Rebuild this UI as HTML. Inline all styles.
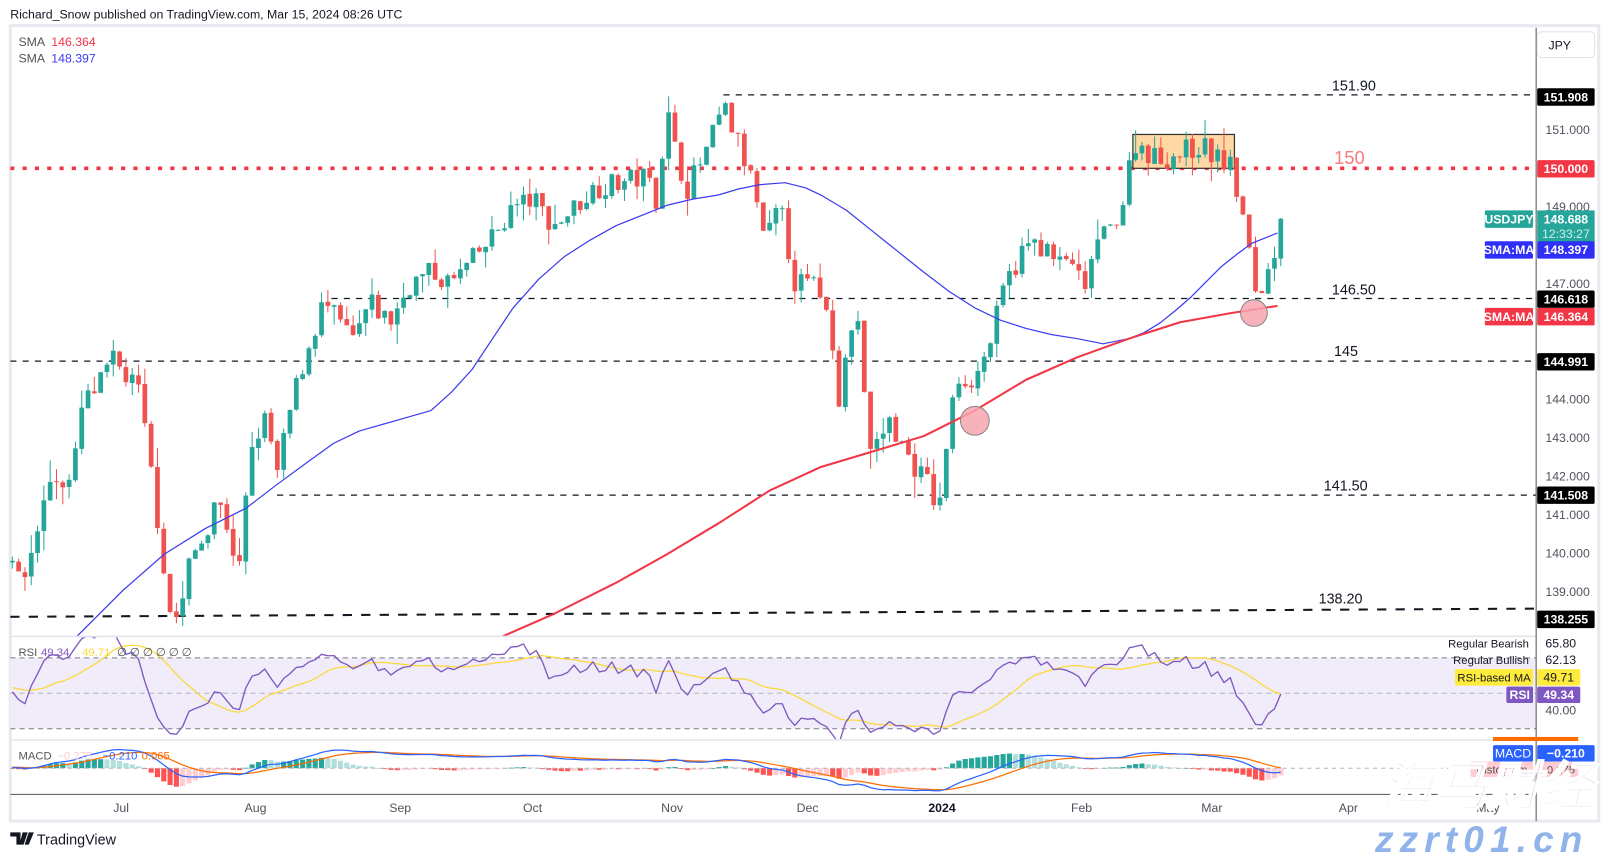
<!DOCTYPE html>
<html><head><meta charset="utf-8">
<style>
html,body{margin:0;padding:0;background:#fff;overflow:hidden}
svg{display:block}
text{font-family:"Liberation Sans",sans-serif}
</style></head>
<body>
<svg id="s" width="1609" height="857" viewBox="0 0 1568 835" preserveAspectRatio="none" xmlns="http://www.w3.org/2000/svg">
<rect x="0" y="0" width="1568" height="835" fill="#fff"/>
<text x="10" y="18" font-size="12" fill="#131722">Richard_Snow published on TradingView.com, Mar 15, 2024 08:26 UTC</text>
<rect x="10" y="25" width="1548" height="775" fill="#fff" stroke="#e8eaf0" stroke-width="3"/>
<defs><clipPath id="cm"><rect x="10" y="27" width="1487" height="593"/></clipPath>
<clipPath id="cr"><rect x="10" y="621" width="1487" height="99"/></clipPath>
<clipPath id="cd"><rect x="10" y="722" width="1487" height="52"/></clipPath></defs>
<g id="main" clip-path="url(#cm)"></g>
<g id="rsi" clip-path="url(#cr)"></g>
<g id="macd" clip-path="url(#cd)"></g>
<g id="over"></g>
</svg>
<script>
var NS="http://www.w3.org/2000/svg";
function el(p,t,a,txt){var e=document.createElementNS(NS,t);for(var k in a)e.setAttribute(k,a[k]);if(txt!==undefined)e.textContent=txt;p.appendChild(e);return e;}
var M=document.getElementById('main'),R=document.getElementById('rsi'),D=document.getElementById('macd'),O=document.getElementById('over');
function Y(p){return 164+(150-p)*37.5;}
var kp=[[-240,139.5],[12,140.0],[20,139.0],[50,142],[70,141.8],[80,143.8],[100,144.5],[110,145],[135,144.2],[148,142],[158,140],[165,138.5],[175,138.3],[185,139.8],[200,140.5],[210,141.5],[225,140.5],[232,139.2],[240,141.5],[248,143],[260,143.5],[270,142],[285,144],[300,145.3],[315,146.5],[330,146],[345,145.5],[360,146.5],[380,146],[400,147],[420,147.3],[440,147],[460,147.6],[480,148.2],[500,149],[520,149.2],[540,148.5],[560,149],[580,149.5],[600,149.6],[630,149.8],[640,149.2],[650,151.5],[660,150.2],[670,149.5],[690,150.5],[705,151.6],[720,150.6],[735,149.5],[745,148],[760,149],[775,147],[790,147],[800,146.8],[812,145.5],[818,144],[825,145.2],[835,146.5],[842,144],[850,142.5],[865,143.5],[875,143],[890,142.3],[905,141.8],[915,141],[925,143.5],[935,144.6],[950,144.5],[965,145.5],[980,147],[1000,148],[1015,148],[1030,147.5],[1045,147.6],[1058,146.6],[1065,148],[1080,148.3],[1095,149.2],[1105,150.7],[1130,150.2],[1150,150.4],[1170,150.6],[1190,150.2],[1200,150],[1208,149.1],[1215,148.2],[1222,146.9],[1228,146.8],[1240,147.6],[1248,148.7]];
function path(x){for(var i=1;i<kp.length;i++){if(x<=kp[i][0]){var a=kp[i-1],b=kp[i];return a[1]+(b[1]-a[1])*(x-a[0])/(b[0]-a[0]);}}return kp[kp.length-1][1];}
var seed=7;function rnd(){seed=(seed*16807)%2147483647;return seed/2147483647;}
var sp=6.15,xs=[],cl=[],op=[],hi=[],lo=[];
var prev=139.5;
for(var i=-40;i<=201;i++){var x=12+i*sp;var c=path(x)+(rnd()-0.5)*0.6;if(i==201)c=148.688;var o=prev+(rnd()-0.5)*0.05;
var h=Math.max(o,c)+rnd()*rnd()*0.6,l=Math.min(o,c)-rnd()*rnd()*0.6;xs.push(x);cl.push(c);op.push(o);hi.push(h);lo.push(l);prev=c;}
function hline(x1,x2,p,extra){var a={x1:x1,x2:x2,y1:Y(p),y2:Y(p),stroke:'#131722','stroke-width':1.2,'stroke-dasharray':'6 6'};for(var k in extra)a[k]=extra[k];el(M,'line',a);}
hline(705,1497,151.908);hline(323,1497,146.618);hline(10,1497,144.991);hline(270,1497,141.508);
el(M,'line',{x1:10,y1:601,x2:1497,y2:593,stroke:'#131722','stroke-width':2,'stroke-dasharray':'9 9'});
el(M,'line',{x1:10,y1:164,x2:1497,y2:164,stroke:'#f23645','stroke-width':3.5,'stroke-dasharray':'4 8'});
el(M,'rect',{x:1104,y:131,width:99,height:33,fill:'#ffd8a3',stroke:'#333','stroke-width':1.2});
var b50=[[75,620],[120,575],[160,540],[200,515],[240,495],[270,472],[300,450],[325,432],[350,420],[385,410],[420,400],[440,382],[460,360],[480,330],[500,300],[525,272],[550,250],[575,234],[600,220],[625,210],[650,200],[675,194],[700,190],[720,184],[740,180],[765,178],[785,183],[800,190],[825,205],[850,225],[875,245],[900,265],[925,284],[950,300],[975,312],[1000,320],[1025,326],[1050,330],[1075,335],[1100,330],[1115,324],[1130,315],[1145,303],[1160,290],[1175,275],[1190,260],[1205,248],[1220,237],[1245,227]];
var r200=[[490,620],[540,598],[600,568],[650,540],[700,510],[750,478],[800,455],[850,440],[900,425],[950,400],[1000,370],[1050,348],[1100,330],[1150,314],[1200,305],[1245,298]];
function pl(g,pts,col,w){el(g,'polyline',{points:pts.map(function(p){return p.join(',')}).join(' '),fill:'none',stroke:col,'stroke-width':w,'stroke-linejoin':'round'});}
for(var i=40;i<xs.length;i++){var x=xs[i],o=op[i],c=cl[i];var col=c>=o?'#26a69a':'#ef5350';
el(M,'line',{x1:x,x2:x,y1:Y(hi[i]),y2:Y(lo[i]),stroke:col,'stroke-width':1});
var t=Y(Math.max(o,c)),bb=Y(Math.min(o,c));el(M,'rect',{x:x-2.3,y:t,width:4.6,height:Math.max(1,bb-t),fill:col});}
pl(M,b50,'#3b3bf0',1.2);pl(M,r200,'#f23645',2);
el(M,'circle',{cx:950,cy:410,r:14,fill:'#f7a4ae','fill-opacity':0.85,stroke:'#888','stroke-width':1});
el(M,'circle',{cx:1222,cy:305,r:13,fill:'#f7a4ae','fill-opacity':0.85,stroke:'#888','stroke-width':1});
function tx(g,x,y,s,t,col,extra){var a={x:x,y:y,'font-size':s,fill:col||'#131722'};for(var k in extra)a[k]=extra[k];return el(g,'text',a,t);}
tx(M,1298,88,14,'151.90');tx(M,1300,160,18,'150','#f77c80');tx(M,1298,287,14,'146.50');tx(M,1300,347,14,'145');tx(M,1290,478,14,'141.50');tx(M,1285,588,14,'138.20');
tx(O,18,45,12,'SMA','#555');tx(O,50,45,12,'146.364','#f23645');tx(O,18,61,12,'SMA','#555');tx(O,50,61,12,'148.397','#3b3bf0');
el(O,'line',{x1:10,x2:1497,y1:620,y2:620,stroke:'#e0e3eb','stroke-width':1.5});
el(O,'line',{x1:10,x2:1497,y1:721,y2:721,stroke:'#e0e3eb','stroke-width':1.5});
el(O,'line',{x1:10,x2:1497,y1:774,y2:774,stroke:'#555','stroke-width':1});
el(O,'line',{x1:1497,x2:1497,y1:27,y2:800,stroke:'#555','stroke-width':1});
el(R,'rect',{x:10,y:641,width:1487,height:69,fill:'#f0ecf9'});
[641,710].forEach(function(y){el(R,'line',{x1:10,x2:1497,y1:y,y2:y,stroke:'#787b86','stroke-dasharray':'5 4','stroke-width':1});});
el(R,'line',{x1:10,x2:1497,y1:675.5,y2:675.5,stroke:'#b2b5be','stroke-dasharray':'5 4','stroke-width':1});
var rs=[],ag=0,al=0;for(var i=1;i<cl.length;i++){var d=cl[i]-cl[i-1];var g=Math.max(d,0),l=Math.max(-d,0);if(i<=14){ag+=g/14;al+=l/14;}else{ag=(ag*13+g)/14;al=(al*13+l)/14;}rs[i]=100-100/(1+ag/(al||1e-9));}
function ry(r){return 641+(70-r)*69/40;}
var rp=[],mp=[];for(var i=40;i<cl.length;i++){rp.push([xs[i],ry(rs[i]).toFixed(1)]);var s=0;for(var j=0;j<14;j++)s+=rs[i-j];mp.push([xs[i],ry(s/14).toFixed(1)]);}
pl(R,mp,'#fdd835',1.2);pl(R,rp,'#7e57c2',1.3);
tx(O,18,639,11,'RSI','#555');tx(O,40,639,11,'49.34','#7e57c2');tx(O,80,639,11,'49.71','#fdd835');tx(O,114,639,11,'\u2205 \u2205 \u2205 \u2205 \u2205 \u2205','#555');
function ema(a,n){var k=2/(n+1),r=[a[0]];for(var i=1;i<a.length;i++)r[i]=a[i]*k+r[i-1]*(1-k);return r;}
var e12=ema(cl,12),e26=ema(cl,26),mc=[];for(var i=0;i<cl.length;i++)mc[i]=e12[i]-e26[i];var sg=ema(mc,9);
var mx=0;for(var i=40;i<cl.length;i++)mx=Math.max(mx,Math.abs(mc[i]),Math.abs(sg[i]));var sc=22/mx,z=748.5;
for(var i=40;i<cl.length;i++){var h=mc[i]-sg[i],ph=mc[i-1]-sg[i-1];var col=h>=0?(h>=ph?'#26a69a':'#b2dfdb'):(h<=ph?'#ff5252':'#ffcdd2');var hh=h*sc*1.6;
el(D,'rect',{x:xs[i]-2.5,y:hh>0?z-hh:z,width:5,height:Math.max(0.8,Math.abs(hh)),fill:col});}
el(D,'line',{x1:10,x2:1497,y1:z,y2:z,stroke:'#b2b5be','stroke-dasharray':'4 4'});
var m1=[],m2=[];for(var i=40;i<cl.length;i++){m1.push([xs[i],(z-mc[i]*sc).toFixed(1)]);m2.push([xs[i],(z-sg[i]*sc).toFixed(1)]);}
pl(D,m2,'#ff6d00',1.2);pl(D,m1,'#2962ff',1.2);
tx(O,18,740,11,'MACD','#555');tx(O,56,740,11,'\u22120.275','#ffcdd2');tx(O,100,740,11,'\u22120.210','#2962ff');tx(O,138,740,11,'0.065','#ff6d00');
[[151,'151.000'],[149,'149.000'],[147,'147.000'],[144,'144.000'],[143,'143.000'],[142,'142.000'],[141,'141.000'],[140,'140.000'],[139,'139.000']].forEach(function(a){tx(O,1506,Y(a[0])+4,12,a[1],'#50535e');});
function box(x,y,w,h,col,t,tc,fs,fw){el(O,'rect',{x:x,y:y,width:w,height:h,fill:col,rx:1.5});tx(O,x+w/2,y+h/2+4.2,fs||12,t,tc||'#fff',{'text-anchor':'middle','font-weight':fw||'bold'});}
el(O,'rect',{x:1498,y:31,width:56,height:25,fill:'#fff',stroke:'#e0e3eb',rx:4});tx(O,1509,48,12,'JPY','#131722');
box(1498,86,56,17,'#000','151.908');box(1498,156,56,17,'#f23645','150.000');
el(O,'rect',{x:1498,y:205,width:56,height:31,fill:'#26a69a'});tx(O,1526,218,12,'148.688','#fff',{'text-anchor':'middle','font-weight':'bold'});tx(O,1526,232,12,'12:33:27','#c9f0ea',{'text-anchor':'middle'});
box(1447,205,47,17,'#26a69a','USDJPY');box(1498,235,56,17,'#2f2ff7','148.397');box(1447,235,47,17,'#2f2ff7','SMA:MA');
box(1498,283,56,17,'#000','146.618');box(1498,300,56,17,'#f23645','146.364');box(1447,300,47,17,'#f23645','SMA:MA');
box(1498,344,56,17,'#000','144.991');box(1498,474,56,17,'#000','141.508');box(1498,595,56,17,'#000','138.255');
tx(O,1490,631,11,'Regular Bearish','#131722',{'text-anchor':'end'});tx(O,1506,631,12,'65.80','#131722');
tx(O,1490,647,11,'Regular Bullish','#131722',{'text-anchor':'end'});tx(O,1506,647,12,'62.13','#131722');
box(1418,652,76,16,'#ffeb3b','RSI-based MA','#131722',11,'normal');box(1498,652,42,16,'#ffeb3b','49.71','#131722',12,'normal');
box(1468,669,26,16,'#7e57c2','RSI');box(1498,669,42,16,'#7e57c2','49.34');
tx(O,1506,696,12,'40.00','#50535e');
el(O,'rect',{x:1455,y:718,width:83,height:4,fill:'#ff6d00'});
box(1455,726,39,16,'#2962ff','MACD','#fff',12,'normal');box(1498,726,56,16,'#2962ff','\u22120.210');
box(1433,742,61,15,'#ffcdd2','Histogram','#555',11,'normal');box(1498,742,40,15,'#ffcdd2','\u22120.275','#555',11,'normal');
[[118,'Jul'],[249,'Aug'],[390,'Sep'],[519,'Oct'],[655,'Nov'],[787,'Dec'],[1054,'Feb'],[1181,'Mar'],[1314,'Apr'],[1450,'May']].forEach(function(a){tx(O,a[0],791,12,a[1],'#50535e',{'text-anchor':'middle'});});
tx(O,918,791,12,'2024','#131722',{'text-anchor':'middle','font-weight':'bold'});
el(O,'path',{d:'M10 811 h10 v12 h-4 v-8 h-6z M22 811 h5 l-4 12 h-4z M28 811 h5 l-5 12 h-4z',fill:'#131722'});
tx(O,36,823,14,'TradingView','#131722');
tx(O,1345,785,52,'海马财经','rgba(200,200,205,0.55)',{'font-family':'"Noto Sans CJK SC",sans-serif','font-weight':'bold','font-style':'italic',stroke:'#fff','stroke-width':1.5});
tx(O,1340,830,36,'zzrt01.cn','#8fb3ea',{'font-weight':'bold','font-style':'italic','letter-spacing':'6'});
</script>
</body></html>
